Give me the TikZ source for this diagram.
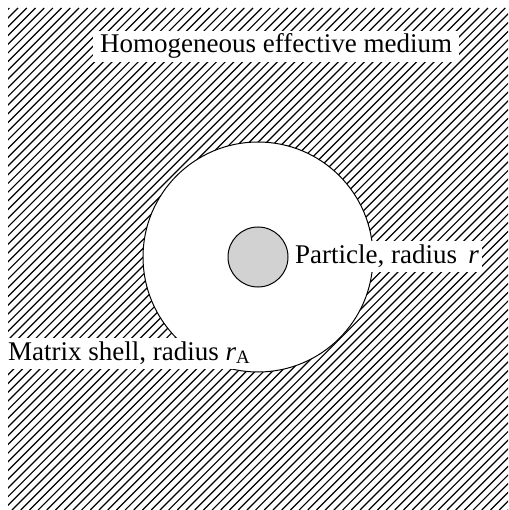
\documentclass[tikz,border=0pt]{standalone}
\usepackage{amsmath}
\usepackage{fontspec}
\setmainfont{Liberation Serif}
\usetikzlibrary{positioning}

\tikzset{
  label box/.style={fill=white, anchor=base west, inner xsep=7pt, inner ysep=3pt,
    text height=19pt, text depth=6pt, font=\fontsize{27}{30}\selectfont},
  hatch line/.style={line width=1.2pt},
}

\begin{document}
\begin{tikzpicture}[x=1pt, y=-1pt]
		\useasboundingbox (0,0) rectangle (508,510);

		% Hatched medium
		\begin{scope}
			\clip (8,8) rectangle (508,510);
			\foreach \i in {-510,-501.3,...,510}
				\draw[hatch line] (\i,510) -- ++(502,-502);
		\end{scope}

		% Circles
		\node[circle, draw, fill=white, line width=1pt, minimum size=230pt, inner sep=0pt] (shell) at (258,257) {};
		\node[circle, draw, fill=gray!35, line width=1pt, minimum size=60pt, inner sep=0pt] (particle) at (shell.center) {};

		% Labels
		\node[label box] (medium) at (93,53) {Homogeneous effective medium};
		\node[label box, inner xsep=3pt] (particlelabel) at (292,263) {Particle, radius \,\textit{r}};
		\node[label box, inner xsep=0pt] (shelllabel) at (8,360) {Matrix shell, radius $\textit{r}_{\textrm{A}}$};
	\end{tikzpicture}
\end{document}
